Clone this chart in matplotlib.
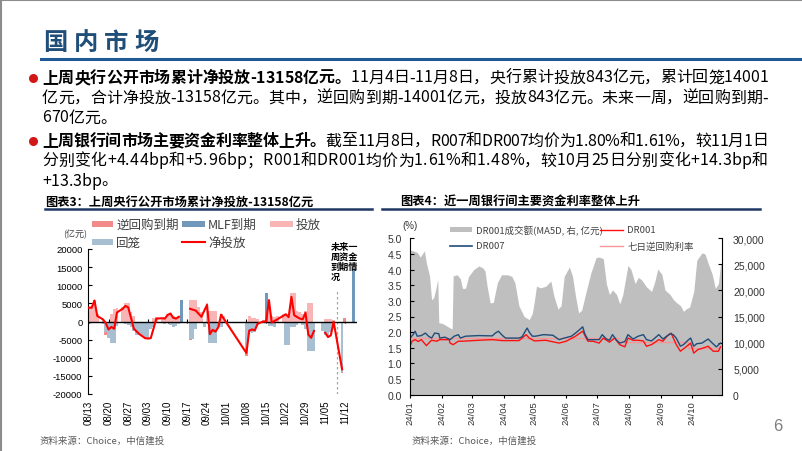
import numpy as np
import matplotlib
matplotlib.use('Agg')
import matplotlib.pyplot as plt
from matplotlib.patches import Rectangle
from matplotlib.lines import Line2D

# ---------------- data: left chart (days since 2024-08-13) ----------------
wk_ticks = [0, 7, 14, 21, 28, 35, 42, 49, 56, 63, 70, 77, 84, 91]
wk_labels = ['08/13', '08/20', '08/27', '09/03', '09/10', '09/17', '09/24',
             '10/01', '10/08', '10/15', '10/22', '10/29', '11/05', '11/12']

net_days = [0, 1, 2, 3, 5, 6, 7, 8, 9, 10, 12, 13, 14, 16, 18, 20, 21, 22, 24, 26, 27, 28, 29, 30, 31, 32,
            34,
            36, 38, 40, 42, 43, 44, 45, 46, 47, 56, 57, 58, 59, 60, 62, 63, 64, 65, 67, 70, 71, 72, 73,
            75, 76, 77, 78, 79, 80,
            82,
            84, 85, 86, 87, 90]
net_vals = [3800, 3800, 5800, 1500, 600, -400, -2200, -1500, -2000, 2500, 3500, 4300, 3900, -2000, -3500,
            -4600, -4700, -4600, 800, 900, 800, 1800, 2200, 1000, 800, 1300,
            np.nan,
            3500, 3000, 1300, 4600, -3500, -2300, -2800, -1600, 1900, -8700, -2500, -2200, -2400, -600,
            0, 0, 5900, -300, 600, 2000, 1200, 6800, 1700,
            800, 600, 2400, -3600, -4500, -2600,
            np.nan,
            -3100, -4300, -3800, -100, -13200]

tf_days = [0, 1, 2, 3, 5, 8, 9, 10, 12, 13, 14, 15, 16, 23, 24, 26, 27, 28, 29, 30, 31, 32,
           36, 37, 38, 39, 40, 42, 43, 44, 45, 47, 48, 57, 58, 59, 60, 62, 63, 64, 65, 66, 67,
           69, 70, 71, 72, 73, 74, 75, 76, 77, 78, 79, 84, 85, 86, 87]
tf_vals = [3900, 4200, 5800, 2000, 800, 2200, 3500, 3600, 4000, 5000, 5000, 2500, 1500,
           1000, 1200, 1000, 1200, 2000, 2300, 1500, 1200, 1500,
           5800, 6000, 5800, 4000, 2500, 5200, 3000, 2900, 2900, 2000, 1500,
           1500, 1000, 1000, 800, 500, 600, 6000, 1500, 1200, 1500,
           2000, 2000, 1500, 8000, 8000, 3000, 2500, 2000, 3000, 5000, 5000,
           800, 700, 600, 500]

hl_days = [3, 4, 5, 6, 7, 8, 9, 10, 13, 14, 15, 16, 17, 18, 19, 20, 21, 22, 23, 25, 27, 29, 30, 31, 32,
           36, 37, 38, 41, 43, 44, 45, 46, 47, 56, 57, 58, 59, 60, 62, 63, 64, 65, 66, 67,
           69, 70, 71, 72, 73, 74, 76, 77, 78, 79, 80, 83, 84, 85, 86, 87, 90]
hl_vals = [-500, -500, -800, -3000, -4500, -5800, -5800, -1200,
           -800, -1000, -1500, -2500, -3600, -3700, -4000, -4800, -4800, -2000, -1500,
           -500, -700, -1000, -1500, -1200, -800,
           -4800, -4800, -2100, -1600, -5800, -5800, -5800, -1600, -1600,
           -9000, -2800, -3300, -3000, -1000, -300, -300, -1200, -1200, -1600, -400,
           -500, -6600, -6600, -1500, -1500, -1000, -1000, -2100, -8200, -8200, -8200,
           -2600, -3600, -4300, -3000, -1000, -14000]

nhg_days = [6, 36, 56, 90, 91]
nhg_vals = [-3800, -5200, -9600, -14200, 1000]

mlf_days = [33, 63, 94]
mlf_vals = [6000, 7900, 14500]

future_day = 88.2

# ---------------- data: right chart (days since 2024-01-01) ----------------
mon_ticks = [0, 31, 60, 91, 121, 152, 182, 213, 244, 274]
mon_labels = ['24/01', '24/02', '24/03', '24/04', '24/05', '24/06', '24/07', '24/08', '24/09', '24/10']

vol_days = [0, 3, 7, 10, 14, 16, 19, 21, 23, 25, 27, 28, 31, 34, 38, 41, 42, 46, 49, 51,
            54, 57, 62, 67, 71, 73, 75, 78, 81, 85, 89, 95, 99, 102, 106, 111, 116, 119, 121, 123,
            127, 132, 137, 140, 144, 147, 150, 155, 158, 161, 164, 167, 171, 176, 181, 184, 188, 191, 194, 197,
            201, 204, 207, 212, 215, 219, 222, 225, 230, 235, 238, 241, 245, 248, 253, 256, 259, 263, 266, 269,
            272, 276, 279, 284, 287, 290, 294, 297, 300, 302, 304]
vol_vals = [27700, 27600, 27300, 26400, 27600, 25200, 22800, 18200, 18600, 20200,
            22100, 13800, 13700, 13400, 12900, 12600, 22800, 23000, 22200, 20400,
            20400, 22700, 24000, 24700, 24300, 23700, 20800, 17600, 17700, 21500,
            23000, 23000, 22700, 21500, 17000, 15000, 14400, 15600, 18000, 20800,
            20500, 20800, 21800, 18900, 16400, 17100, 22700, 24500, 22800, 18900,
            15700, 16200, 19500, 23400, 26300, 26400, 26100, 21300, 19200, 20100,
            19200, 17400, 19200, 24800, 24000, 21300, 22500, 22100, 20700, 19800,
            21600, 24100, 23100, 20100, 19200, 18300, 17700, 17100, 16000, 16500,
            16800, 19800, 25800, 27200, 27000, 25200, 23100, 20400, 21300, 24900, 25200]

dr7_days = [0, 3, 5, 7, 11, 15, 18, 21, 24, 28, 29, 34, 39, 43, 47, 49, 54, 67, 80, 83,
            86, 90, 93, 106, 109, 113, 114, 116, 119, 122, 130, 139, 145, 150, 157, 161, 165, 168, 170, 173,
            178, 184, 187, 191, 194, 197, 201, 204, 209, 212, 217, 222, 227, 230, 235, 242, 246, 253, 256, 259,
            263, 266, 271, 273, 276, 279, 284, 290, 295, 298, 302]
dr7_vals = [1.81, 1.92, 2.03, 1.87, 1.89, 1.97, 1.87, 1.81, 1.97, 1.95, 1.81, 1.84, 1.76, 1.87, 1.92, 1.81,
            1.87, 1.89, 1.88, 1.97, 2.03, 1.89, 1.81, 1.81, 1.85, 2.08, 2.13, 2.00, 1.87, 1.87,
            1.92, 1.90, 1.76, 1.81, 1.87, 1.97, 2.08, 2.17, 1.95, 1.76, 1.76, 1.76, 1.92, 1.78, 1.74, 1.92,
            1.74, 1.65, 1.70, 1.92, 1.78, 1.87, 1.92, 1.76, 1.72, 1.92, 1.78, 1.95, 1.92, 1.81,
            1.55, 1.60, 1.76, 1.81, 1.55, 1.63, 1.65, 1.78, 1.62, 1.53, 1.65]

dr1_days = [0, 2, 5, 8, 11, 16, 20, 21, 26, 29, 38, 39, 42, 47, 51, 67, 80, 90, 106, 109,
            113, 116, 121, 132, 145, 152, 161, 168, 173, 178, 184, 188, 194, 199, 204, 209, 212, 217, 222, 227,
            230, 235, 242, 246, 250, 254, 259, 263, 267, 273, 276, 280, 285, 290, 295, 300, 302]
dr1_vals = [1.55, 1.71, 1.76, 1.70, 1.76, 1.57, 1.71, 1.74, 1.71, 1.76, 1.76, 1.65, 1.60, 1.71, 1.71, 1.74,
            1.76, 1.73, 1.73, 1.81, 1.92, 1.81, 1.72, 1.74, 1.65, 1.71, 1.87, 2.03, 1.71, 1.71,
            1.65, 1.81, 1.68, 1.81, 1.60, 1.53, 1.81, 1.74, 1.74, 1.72, 1.55, 1.60, 1.76, 1.71, 1.87, 1.97,
            1.60, 1.39, 1.49, 1.65, 1.33, 1.44, 1.49, 1.55, 1.39, 1.39, 1.53]

rr_days = [0, 203, 270, 304]
rr_vals = [1.8, 1.7, 1.5, 1.5]

# ---------------- figure ----------------
W, H = 802, 452
fig = plt.figure(figsize=(W / 100, H / 100), dpi=100)
CJK = ['Noto Sans CJK SC', 'DejaVu Sans']
NUM = ['Liberation Sans', 'DejaVu Sans']
plt.rcParams['font.family'] = CJK
renderer = fig.canvas.get_renderer()


def P(x, y):
    return (x / W, 1 - y / H)


def fline(x0, y0, x1, y1, **kw):
    fig.add_artist(Line2D([x0 / W, x1 / W], [1 - y0 / H, 1 - y1 / H], transform=fig.transFigure, **kw))


def frect(x0, y0, x1, y1, color):
    fig.add_artist(Rectangle((x0 / W, 1 - y1 / H), (x1 - x0) / W, (y1 - y0) / H,
                             transform=fig.transFigure, color=color, lw=0))


# slide frame
fline(0, 0.5, W, 0.5, color='#8C8C8C', lw=1.5)
fline(0.5, 0, 0.5, H, color='#8C8C8C', lw=1.5)

# header
for i, ch in enumerate('国内市场'):
    fig.text(*P(43 + i * 30.5, 43), ch, fontsize=17.5, fontweight='bold', color='#1F4E79',
             va='center', ha='left', family=CJK)
fline(41, 59.5, W, 59.5, color='#1F5A96', lw=2.2)


# body text with justification
def char_widths(chars, fs, bold):
    ws = []
    for c in chars:
        t = fig.text(0, 0, c, fontsize=fs, fontweight='bold' if bold else 'normal', family=CJK)
        ws.append(t.get_window_extent(renderer).width)
        t.remove()
    return ws


def draw_line(x0, y, segs, fs, target=None):
    items = []
    for s, b in segs:
        ws = char_widths(s, fs, b)
        items += [(c, b, w) for c, w in zip(s, ws)]
    total = sum(w for _, _, w in items)
    extra = 0 if target is None else (target - total) / max(len(items) - 1, 1)
    x = x0
    for c, b, w in items:
        fig.text(x / W, 1 - y / H, c, fontsize=fs, fontweight='bold' if b else 'normal',
                 family=CJK, va='center', ha='left', color='black')
        x += w + extra


lines = [
    ([("上周央行公开市场累计净投放-13158亿元。", True), ("11月4日-11月8日，央行累计投放843亿元，累计回笼14001", False)], True, 78),
    ([("亿元，合计净投放-13158亿元。其中，逆回购到期-14001亿元，投放843亿元。未来一周，逆回购到期-", False)], True, 98),
    ([("670亿元。", False)], False, 118),
    ([("上周银行间市场主要资金利率整体上升。", True), ("截至11月8日，R007和DR007均价为1.80%和1.61%，较11月1日", False)], True, 141),
    ([("分别变化+4.44bp和+5.96bp；R001和DR001均价为1.61%和1.48%，较10月25日分别变化+14.3bp和", False)], True, 161),
    ([("+13.3bp。", False)], False, 181),
]
t = fig.text(0, 0, lines[1][0][0][0], fontsize=11, family=CJK)
w11 = t.get_window_extent(renderer).width
t.remove()
FS = 11 * 722 / w11
FS = min(max(FS, 9.5), 11.5)
for segs, full, y in lines:
    draw_line(42, y, segs, FS, target=726 if full else None)
for y in (79, 142):
    fig.add_artist(Line2D([33 / W], [1 - y / H], marker='o', ms=5.5, color='#D01818',
                          transform=fig.transFigure, lw=0))

# chart titles
fig.text(*P(45, 202), "图表3：上周央行公开市场累计净投放-13158亿元", fontsize=8.8, fontweight='bold',
         va='center', ha='left', family=CJK)
fline(45, 210, 372, 210, color='#1F3864', lw=1.8)
fig.text(*P(400, 202), "图表4：近一周银行间主要资金利率整体上升", fontsize=8.8, fontweight='bold',
         va='center', ha='left', family=CJK)
fline(382, 210, 760, 210, color='#1F3864', lw=1.8)

# ---------------- left chart ----------------
C_NHG = '#F28A8A'
C_MLF = '#7098BA'
C_TF = '#F9B5B5'
C_HL = '#A8BED1'
C_NET = '#FF0000'

ax1 = fig.add_axes([88 / W, 1 - 395 / H, (357 - 88) / W, (395 - 250) / H])
ax1.set_xlim(-0.3, 95.3)
ax1.set_ylim(-20000, 20000)
ax1.bar(nhg_days, nhg_vals, width=1.0, color=C_NHG, lw=0, zorder=1)
ax1.bar(hl_days, hl_vals, width=1.0, color=C_HL, lw=0, zorder=2)
ax1.bar(tf_days, tf_vals, width=1.0, color=C_TF, lw=0, zorder=2)
ax1.bar(mlf_days, mlf_vals, width=1.0, color=C_MLF, lw=0, zorder=3)
ax1.axhline(0, color='black', lw=1.0, zorder=4)
ax1.plot(net_days, net_vals, color=C_NET, lw=1.5, zorder=5)
ax1.vlines(future_day, -20000, 8700, colors='#A8A890', linestyles=(0, (2, 2)), lw=0.9, zorder=3)
ax1.text(86.0, 21800, "未来一\n周资金\n到期情\n况", fontsize=6.6, fontweight='bold', va='top', ha='left',
         linespacing=1.12, clip_on=False, family=CJK)
for s in ('top', 'right', 'bottom'):
    ax1.spines[s].set_visible(False)
ax1.spines['left'].set_linewidth(0.8)
ax1.set_yticks(np.arange(-20000, 20001, 5000))
ax1.set_yticklabels([f'{v:d}' for v in range(-20000, 20001, 5000)], family=NUM, fontsize=6.8)
ax1.tick_params(axis='y', direction='in', length=3, width=0.8, pad=4)
ax1.set_xticks(wk_ticks)
ax1.set_xticklabels(wk_labels, rotation=90, family=NUM, fontsize=7, va='top')
ax1.tick_params(axis='x', length=0, pad=4)
sec = ax1.secondary_xaxis(0.5)
sec.set_xticks(wk_ticks)
sec.set_xticklabels([])
sec.tick_params(length=2.5, width=0.8, direction='inout')
for s in sec.spines.values():
    s.set_visible(False)

# left legend
frect(92, 222, 113, 228, C_NHG)
fig.text(*P(116, 225), "逆回购到期", fontsize=9, va='center', color='#404040', family=CJK)
frect(182, 222, 205, 228, C_MLF)
fig.text(*P(208, 225), "MLF到期", fontsize=9, va='center', color='#404040', family=CJK)
frect(270, 222, 293, 228, C_TF)
fig.text(*P(296, 225), "投放", fontsize=9, va='center', color='#404040', family=CJK)
frect(92, 240, 113, 246, C_HL)
fig.text(*P(116, 243), "回笼", fontsize=9, va='center', color='#404040', family=CJK)
fline(182, 243, 205, 243, color=C_NET, lw=1.5)
fig.text(*P(208, 243), "净投放", fontsize=9, va='center', color='#404040', family=CJK)
fig.text(*P(63, 235), "(亿元)", fontsize=6.5, va='center', color='#404040', family=CJK)

# ---------------- right chart ----------------
C_VOL = '#BFBFBF'
C_DR7 = '#1F4E79'
C_DR1 = '#FF1010'
C_RR = '#F79696'

ax2 = fig.add_axes([410 / W, 1 - 395.7 / H, (722 - 410) / W, (395.7 - 239.3) / H])
ax2r = ax2.twinx()
ax2.set_zorder(ax2r.get_zorder() + 1)
ax2.patch.set_visible(False)
ax2r.fill_between(vol_days, vol_vals, 0, color=C_VOL, lw=0)
ax2r.set_ylim(0, 30000)
ax2.plot(rr_days, rr_vals, color=C_RR, lw=1.0, drawstyle='steps-post')
ax2.plot(dr1_days, dr1_vals, color=C_DR1, lw=1.0)
ax2.plot(dr7_days, dr7_vals, color=C_DR7, lw=1.0)
ax2.set_xlim(0, 303.5)
ax2.set_ylim(0, 5)
for s in ('top', 'right'):
    ax2.spines[s].set_visible(False)
for s in ('top', 'left', 'bottom'):
    ax2r.spines[s].set_visible(False)
for sp in (ax2.spines['left'], ax2.spines['bottom'], ax2r.spines['right']):
    sp.set_linewidth(0.8)
ax2.set_yticks(np.arange(0, 5.01, 0.5))
ax2.set_yticklabels([f'{v:.1f}' for v in np.arange(0, 5.01, 0.5)], family=NUM, fontsize=7.5, color='#333333')
ax2.tick_params(axis='y', direction='in', length=3, width=0.8, pad=6)
ax2r.set_yticks(np.arange(0, 30001, 5000))
ax2r.set_yticklabels([f'{v:,}' for v in range(0, 30001, 5000)], family=NUM, fontsize=7.5, color='#333333')
ax2r.tick_params(axis='y', direction='in', length=3, width=0.8, pad=8)
ax2.set_xticks(mon_ticks)
ax2.set_xticklabels(mon_labels, rotation=90, family=NUM, fontsize=6.8, va='top', color='#333333')
ax2.tick_params(axis='x', direction='out', length=2, width=0.8, pad=2)

# right legend
frect(450, 228, 472, 233, C_VOL)
fig.text(*P(476, 231), "DR001成交额(MA5D, 右, 亿元)", fontsize=6.8, va='center', color='#404040', family=CJK)
fline(600, 230.7, 623, 230.7, color=C_DR1, lw=1.0)
fig.text(*P(627, 231), "DR001", fontsize=6.8, va='center', color='#404040', family=CJK)
fline(450, 246.7, 472, 246.7, color=C_DR7, lw=1.2)
fig.text(*P(476, 247), "DR007", fontsize=6.8, va='center', color='#404040', family=CJK)
fline(600, 246.7, 623, 246.7, color=C_RR, lw=1.0)
fig.text(*P(627, 247), "七日逆回购利率", fontsize=6.8, va='center', color='#404040', family=CJK)
fig.text(*P(402, 226), "(%)", fontsize=7, va='center', color='#333333', family=NUM)

# sources and page number
fig.text(*P(40, 441), "资料来源：Choice，中信建投", fontsize=6.8, va='center', color='#595959',
         style='italic', family=CJK)
fig.text(*P(412, 441), "资料来源：Choice，中信建投", fontsize=6.8, va='center', color='#595959',
         style='italic', family=CJK)
fig.text(*P(778, 427), "6", fontsize=12, va='center', ha='center', color='#7F7F7F', family=NUM)

fig.savefig('out.png', dpi=100)
